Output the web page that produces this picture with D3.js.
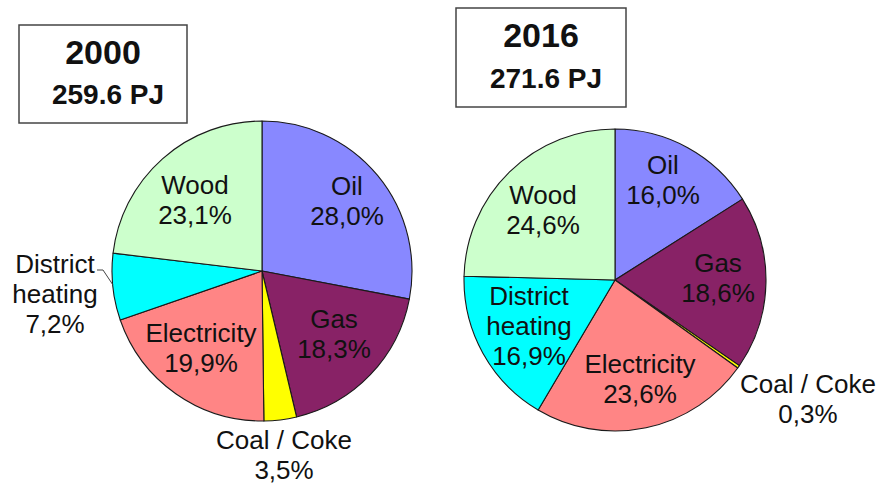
<!DOCTYPE html>
<html>
<head>
<meta charset="utf-8">
<script src="https://cdn.jsdelivr.net/npm/d3@7"></script>
<style>
  html, body { margin: 0; padding: 0; background: #fff; }
  svg { display: block; }
</style>
</head>
<body>
<svg id="chart" width="881" height="486"></svg>
<script>
// ---- data ----
const categories = ["Oil", "Gas", "Coal / Coke", "Electricity", "District heating", "Wood"];
const values2000 = [28.0, 18.3, 3.5, 19.9, 7.2, 23.1];
const values2016 = [16.0, 18.6, 0.3, 23.6, 16.9, 24.6];
const years = ["2000", "2016"];
const totals = ["259.6 PJ", "271.6 PJ"];
const colors = ["#8888ff", "#882266", "#ffff00", "#ff8585", "#00ffff", "#ccffcc"];

// ---- layout ----
const pies = [
  { values: values2000, cx: 262, cy: 271, r: 150,
    box: { x: 19, y: 25, w: 168, h: 98, yearX: 103, yearY: 64, totX: 108, totY: 104 },
    labels: [[85, -76], [72, 57], [22, 178], [-61, 71], [-207, 2], [-67, -77]],
    leader: [[97, 270], [103, 270], [113, 285]] },
  { values: values2016, cx: 615, cy: 280, r: 151,
    box: { x: 456, y: 8, w: 170, h: 99, yearX: 541, yearY: 47, totX: 546, totY: 88 },
    labels: [[48, -106], [103, -8], [193, 113], [25, 93], [-86, 25], [-72, -76]],
    leader: null }
];

const svg = d3.select("#chart");
const fmt = v => d3.format(".1f")(v).replace(".", ",") + "%";
const lineH = 30;

pies.forEach((p, i) => {
  const pie = d3.pie().sort(null).value(d => d)(p.values);
  const arc = d3.arc().innerRadius(0).outerRadius(p.r);
  const g = svg.append("g").attr("transform", `translate(${p.cx},${p.cy})`);
  g.selectAll("path").data(pie).join("path")
    .attr("d", arc)
    .attr("fill", (d, j) => colors[j])
    .attr("stroke", "#1a1a1a")
    .attr("stroke-width", 1.1)
    .attr("stroke-linejoin", "round");

  // labels
  pie.forEach((d, j) => {
    const lines = categories[j] === "District heating" ? categories[j].split(" ") : [categories[j]];
    lines.push(fmt(p.values[j]));
    const t = g.append("text")
      .attr("text-anchor", "middle")
      .attr("font-family", "'Liberation Sans', Arial, sans-serif")
      .attr("font-size", 26)
      .attr("fill", "#111");
    lines.forEach((ln, k) => {
      t.append("tspan")
        .attr("x", p.labels[j][0])
        .attr("y", p.labels[j][1] + k * lineH)
        .text(ln);
    });
  });

  if (p.leader) {
    svg.append("polyline")
      .attr("points", p.leader.map(q => q.join(",")).join(" "))
      .attr("fill", "none")
      .attr("stroke", "#444")
      .attr("stroke-width", 1);
  }

  // title box
  const b = p.box;
  svg.append("rect")
    .attr("x", b.x).attr("y", b.y).attr("width", b.w).attr("height", b.h)
    .attr("fill", "#fff").attr("stroke", "#444").attr("stroke-width", 1.5);
  svg.append("text")
    .attr("x", b.yearX).attr("y", b.yearY)
    .attr("text-anchor", "middle")
    .attr("font-family", "'Liberation Sans', Arial, sans-serif")
    .attr("font-weight", "bold").attr("font-size", 34).attr("fill", "#111")
    .text(years[i]);
  svg.append("text")
    .attr("x", b.totX).attr("y", b.totY)
    .attr("text-anchor", "middle")
    .attr("font-family", "'Liberation Sans', Arial, sans-serif")
    .attr("font-weight", "bold").attr("font-size", 28).attr("fill", "#111")
    .text(totals[i]);
});
</script>
</body>
</html>
